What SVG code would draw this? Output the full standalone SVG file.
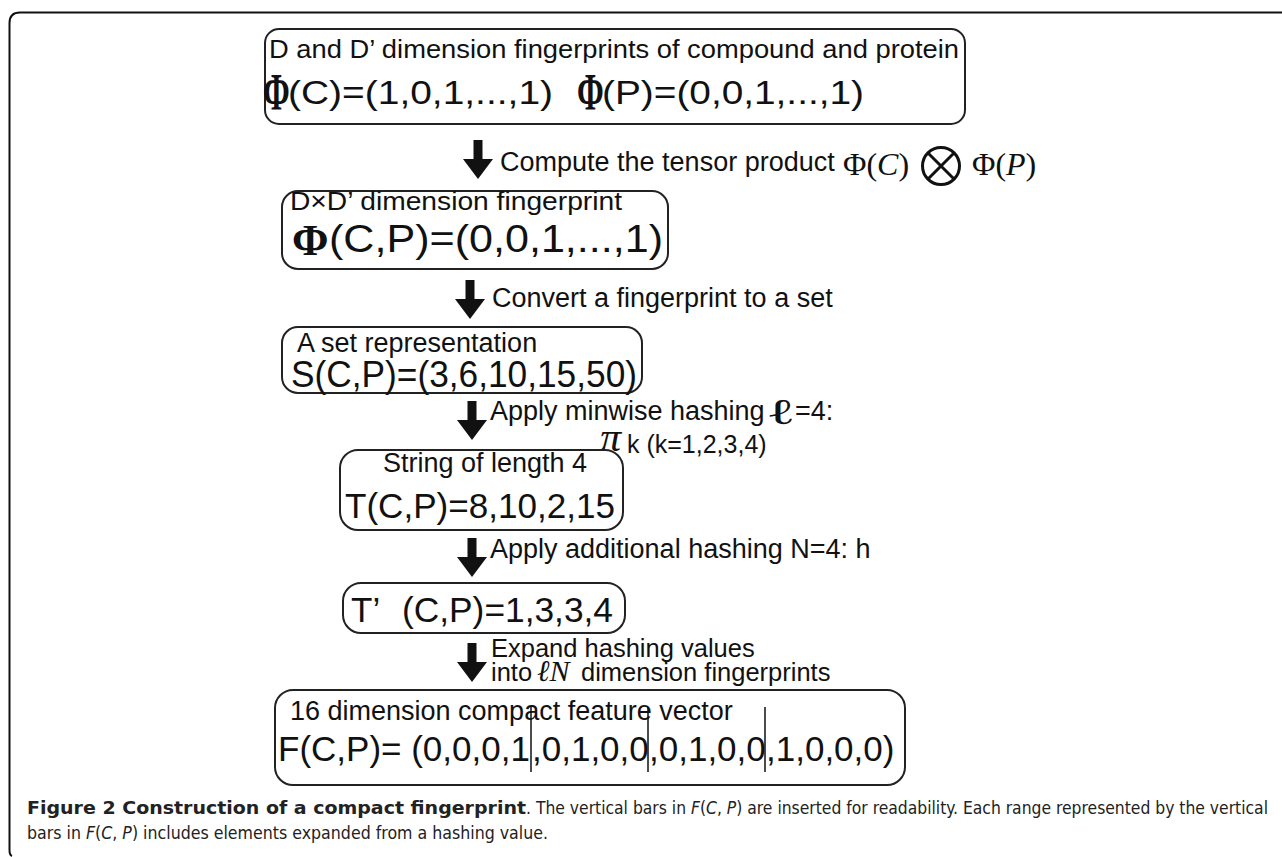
<svg xmlns="http://www.w3.org/2000/svg" xmlns:xlink="http://www.w3.org/1999/xlink" width="1282" height="857" viewBox="0 0 1282 857">
<style>
.box{fill:#fff;stroke:#222;stroke-width:2}
.t{font-family:"Liberation Sans",Arial,sans-serif;fill:#111}
.s{font-size:27px}
.b{font-size:35px}
.phi{font-family:"Liberation Serif","Times New Roman",serif;font-weight:bold;fill:#111}
.m{font-family:"Liberation Serif","DejaVu Serif",serif;fill:#111}
.cap{font-family:"Liberation Sans Narrow","DejaVu Sans Condensed","Liberation Sans",sans-serif;font-stretch:condensed;font-size:17.5px;fill:#222}
.bar{stroke:#111;stroke-width:1.5}
</style>
<defs>
<path id="arr" d="M-4.5,0 H4.5 V19 H15 L0,39 L-15,19 H-4.5 Z" fill="#111"/>
</defs>
<rect width="1282" height="857" fill="#fff"/>
<path d="M1282,12.5 H20 Q9.5,12.5 9.5,23 V850 Q9.5,855 12,856" fill="none" stroke="#111" stroke-width="2"/>

<g id="connectors">
<use xlink:href="#arr" x="478" y="140"/>
<use xlink:href="#arr" x="470" y="280"/>
<use xlink:href="#arr" x="472" y="401"/>
<use xlink:href="#arr" x="472" y="538"/>
<use xlink:href="#arr" x="472" y="643"/>
<text class="t s" x="500" y="171">Compute the tensor product</text>
<text class="m" x="843" y="175" font-size="32">Φ(<tspan font-style="italic">C</tspan>)</text>
<g fill="none" stroke="#111" stroke-width="3">
<circle cx="941" cy="166" r="18.5"/>
<path d="M928,153 L954,179 M954,153 L928,179"/>
</g>
<text class="m" x="972" y="175" font-size="32">Φ(<tspan font-style="italic">P</tspan>)</text>
<text class="t s" x="492" y="307">Convert a fingerprint to a set</text>
<text class="t s" x="490" y="420">Apply minwise hashing</text>
<text class="m" transform="translate(769,424) scale(1.7,1)" font-size="36" font-weight="bold">ℓ</text>
<text class="t s" x="795" y="420">=4:</text>
<text class="m" x="600" y="451" font-size="42" font-style="italic">π</text>
<text class="t" x="627" y="453" font-size="25">k (k=1,2,3,4)</text>
<text class="t s" x="490" y="558">Apply additional hashing N=4: h</text>
<text class="t" x="491" y="657" font-size="25.5">Expand hashing values</text>
<text class="t" x="491" y="681" font-size="25.5">into</text>
<text class="m" x="537" y="681" font-size="30" font-style="italic">ℓN</text>
<text class="t" x="581" y="681" font-size="25.5">dimension fingerprints</text>
</g>

<g id="n1">
<rect class="box" x="265" y="29" width="700" height="95" rx="14"/>
<text class="t" x="269" y="58" font-size="26" textLength="690" lengthAdjust="spacingAndGlyphs">D and D’ dimension fingerprints of compound and protein</text>
<text class="phi" transform="translate(263,110) scale(0.62,1)" font-size="52">Φ</text>
<text class="t" x="288" y="104" font-size="34" textLength="265" lengthAdjust="spacingAndGlyphs">(C)=(1,0,1,...,1)</text>
<text class="phi" transform="translate(577,110) scale(0.62,1)" font-size="52">Φ</text>
<text class="t" x="602" y="104" font-size="34" textLength="262" lengthAdjust="spacingAndGlyphs">(P)=(0,0,1,...,1)</text>
</g>

<g id="n2">
<rect class="box" x="282" y="191" width="386" height="78" rx="16"/>
<text class="t" x="290" y="210" font-size="26" textLength="332" lengthAdjust="spacingAndGlyphs">D×D’ dimension fingerprint</text>
<text class="phi" x="292" y="255" font-size="44">Φ</text>
<text class="t" x="329" y="252" font-size="38" textLength="334" lengthAdjust="spacingAndGlyphs">(C,P)=(0,0,1,...,1)</text>
</g>

<g id="n3">
<rect class="box" x="282" y="327" width="360" height="66" rx="16"/>
<text class="t s" x="297" y="352">A set representation</text>
<text class="t" x="291" y="387" font-size="36" textLength="346" lengthAdjust="spacingAndGlyphs">S(C,P)=(3,6,10,15,50)</text>
</g>

<g id="n4">
<rect class="box" x="340" y="450" width="283" height="80" rx="18"/>
<text class="t s" x="383" y="472">String of length 4</text>
<text class="t b" x="345" y="518" textLength="270" lengthAdjust="spacingAndGlyphs">T(C,P)=8,10,2,15</text>
</g>

<g id="n5">
<rect class="box" x="343" y="583" width="282" height="50" rx="18"/>
<text class="t b" x="351" y="622">T’</text>
<text class="t b" x="402" y="622" textLength="211" lengthAdjust="spacingAndGlyphs">(C,P)=1,3,3,4</text>
</g>

<g id="n6">
<rect class="box" x="275" y="690" width="630" height="95" rx="18"/>
<text class="t s" x="290" y="720">16 dimension compact feature vector</text>
<text class="t b" x="278" y="761">F(C,P)= (0,0,0,1</text>
<text class="t b" x="532" y="761">,0,1,0,0</text>
<text class="t b" x="649" y="761">,0,1,0,0</text>
<text class="t b" x="766" y="761">,1,0,0,0)</text>
<line class="bar" x1="531" y1="707" x2="531" y2="772"/>
<line class="bar" x1="648" y1="707" x2="648" y2="772"/>
<line class="bar" x1="765" y1="707" x2="765" y2="772"/>
</g>

<g id="caption">
<text class="cap" x="27" y="814" font-weight="bold" textLength="499" lengthAdjust="spacingAndGlyphs">Figure 2 Construction of a compact fingerprint</text>
<text class="cap" x="526" y="814" textLength="742" lengthAdjust="spacingAndGlyphs">. The vertical bars in <tspan font-style="italic">F</tspan>(<tspan font-style="italic">C</tspan>, <tspan font-style="italic">P</tspan>) are inserted for readability. Each range represented by the vertical</text>
<text class="cap" x="27" y="839" textLength="521" lengthAdjust="spacingAndGlyphs">bars in <tspan font-style="italic">F</tspan>(<tspan font-style="italic">C</tspan>, <tspan font-style="italic">P</tspan>) includes elements expanded from a hashing value.</text>
</g>
</svg>
